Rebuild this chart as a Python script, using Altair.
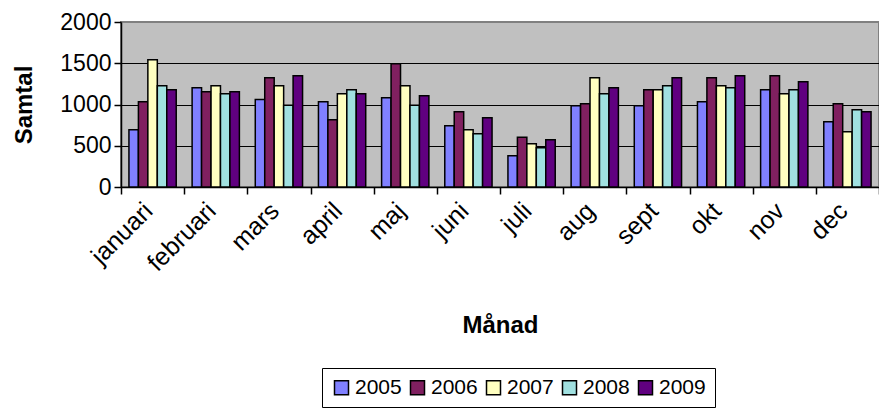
import altair as alt
import pandas as pd

months = ["januari", "februari", "mars", "april", "maj", "juni",
          "juli", "aug", "sept", "okt", "nov", "dec"]
years = ["2005", "2006", "2007", "2008", "2009"]
v2005 = [695, 1204, 1062, 1034, 1083, 743, 380, 986, 986, 1034, 1180, 792]
v2006 = [1034, 1155, 1325, 816, 1495, 913, 602, 1010, 1180, 1325, 1349, 1010]
v2007 = [1543, 1228, 1228, 1131, 1228, 695, 525, 1325, 1180, 1228, 1131, 670]
v2008 = [1228, 1131, 990, 1180, 990, 646, 476, 1131, 1228, 1204, 1180, 937]
v2009 = [1180, 1155, 1349, 1131, 1107, 840, 573, 1204, 1325, 1349, 1277, 913]
colors = ["#8080FF", "#802060", "#FFFFC0", "#A0E0E0", "#600080"]
y_ticks = [0, 500, 1000, 1500, 2000]

rows = []
for yr, vals in zip(years, [v2005, v2006, v2007, v2008, v2009]):
    for m, v in zip(months, vals):
        rows.append({"month": m, "year": yr, "value": v})
df = pd.DataFrame(rows)

FONT = "Liberation Sans"

chart = alt.Chart(df).mark_bar(stroke="black", strokeWidth=1.5).encode(
    x=alt.X(
        "month:N", sort=months,
        scale=alt.Scale(paddingInner=0, paddingOuter=0),
        axis=alt.Axis(
            title="Månad", labelAngle=-45, tickBand="extent", tickSize=7,
            tickColor="black", tickWidth=1.5, domainColor="black", domainWidth=1.5,
            labelFontSize=25, labelFont=FONT, labelColor="black", labelPadding=4,
            labelOffset=-13,
            titleFontSize=24, titleFont=FONT, titleFontWeight="bold",
            titleColor="black", titleY=145, titleBaseline="alphabetic", grid=False,
        ),
    ),
    xOffset=alt.XOffset(
        "year:N", sort=years,
        scale=alt.Scale(paddingInner=0, paddingOuter=0.84),
    ),
    y=alt.Y(
        "value:Q",
        scale=alt.Scale(domain=[0, 2000], nice=False),
        axis=alt.Axis(
            title="Samtal", values=y_ticks, format="d", tickSize=7, tickColor="black",
            tickWidth=1.5, domainColor="black", domainWidth=1.5,
            labelFontSize=23, labelFont=FONT, labelColor="black", labelPadding=3,
            titleFontSize=24, titleFont=FONT, titleFontWeight="bold",
            titleColor="black", titleX=-97, titleAlign="center",
            titleBaseline="middle",
            grid=True, gridWidth=1.2,
            gridColor={"condition": {"test": "datum.value >= 2000", "value": "#808080"},
                       "value": "black"},
        ),
    ),
    color=alt.Color(
        "year:N",
        scale=alt.Scale(domain=years, range=colors),
        legend=alt.Legend(
            orient="none", legendX=201, legendY=346, direction="horizontal",
            columns=5, title=None, symbolType="square", symbolSize=196,
            symbolStrokeColor="black", symbolStrokeWidth=1.5,
            labelFontSize=21, labelFont=FONT, labelColor="black", labelOffset=3,
            columnPadding=5, padding=9, strokeColor="black", fillColor="white",
        ),
    ),
).properties(
    width=758, height=165,
    autosize=alt.AutoSizeParams(type="none"),
    padding={"left": 113, "top": 14, "right": 0, "bottom": 225},
).configure_view(
    fill="#C0C0C0", stroke="#808080", strokeWidth=2,
)

chart.save("out.html", embed_options={"renderer": "svg", "actions": False})
